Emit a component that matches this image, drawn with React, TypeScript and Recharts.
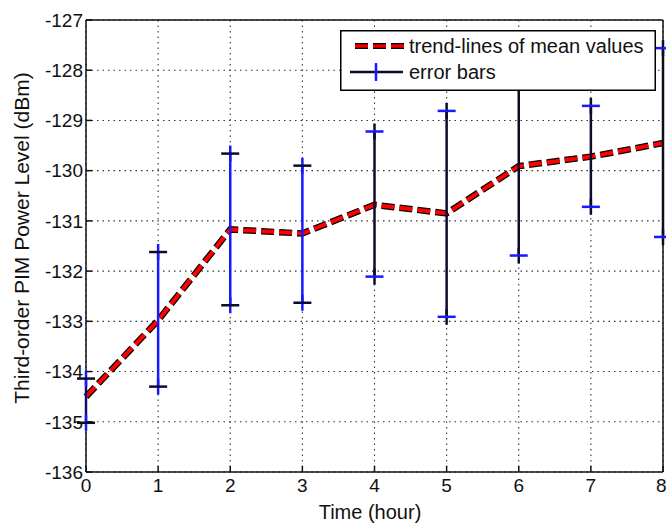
import React from 'react'
import { CartesianGrid, ComposedChart, ErrorBar, Legend, Line, Scatter, XAxis, YAxis } from 'recharts'

const FONT = '"Liberation Sans", Arial, sans-serif'

// hours after start
const hours = [0, 1, 2, 3, 4, 5, 6, 7, 8]
// mean PIM level (dBm) per hour
const meanValues = [-134.5, -132.98, -131.17, -131.25, -130.68, -130.85, -129.91, -129.72, -129.45]
// top / bottom of each error bar
const upperValues = [-134.14, -131.62, -129.66, -129.9, -129.22, -128.81, -127.9, -128.71, -127.56]
const lowerValues = [-135.02, -134.3, -132.68, -132.63, -132.11, -132.91, -131.69, -130.72, -131.32]
const yTicks = [-136, -135, -134, -133, -132, -131, -130, -129, -128, -127]

const rows = hours.map((h, i) => ({
    hour: h,
    mean: meanValues[i],
    upper: upperValues[i],
    lower: lowerValues[i],
    err: [meanValues[i] - lowerValues[i], upperValues[i] - meanValues[i]],
}))
// the first four bars were drawn blue with dark caps, the rest dark with blue caps
const firstGroup = rows.filter(r => r.hour <= 3)
const secondGroup = rows.filter(r => r.hour > 3)

const BLUE = '#1818ff'
const NAVY = '#0c0c2c'

const capShape = (capColor: string, barColor: string) => (props: any) => {
    const { cx, cy } = props
    return (
        <g>
            <line x1={cx} x2={cx} y1={cy - 8} y2={cy + 8} stroke={barColor} strokeWidth={2.5} />
            <line x1={cx - 9} x2={cx + 9} y1={cy} y2={cy} stroke={capColor} strokeWidth={2.5} />
        </g>
    )
}

const hidden = () => <g />

const YLabel = () => (
    <text x={21} y={238} transform="rotate(-90 21 238)" textAnchor="middle" dominantBaseline="central"
        fontFamily={FONT} fontSize={21} fill="#111">
        Third-order PIM Power Level (dBm)
    </text>
)

const XLabel = () => (
    <text x={370} y={519} textAnchor="middle" fontFamily={FONT} fontSize={20} fill="#111">
        Time (hour)
    </text>
)

const LegendBox = () => (
    <svg width={316} height={61} style={{ display: 'block', background: '#fff' }}>
        <rect x={0.75} y={0.75} width={314.5} height={59.5} fill="#fff" stroke="#000" strokeWidth={1.5} />
        <line x1={15} x2={64} y1={16} y2={16} stroke="#000" strokeWidth={6} strokeDasharray="13 5" />
        <line x1={15} x2={64} y1={16} y2={16} stroke="#e00" strokeWidth={3.5} strokeDasharray="13 5" />
        <text x={69} y={23} fontFamily={FONT} fontSize={20} fill="#111">trend-lines of mean values</text>
        <line x1={10} x2={63} y1={42} y2={42} stroke={NAVY} strokeWidth={2.5} />
        <line x1={36} x2={36} y1={33} y2={51} stroke={BLUE} strokeWidth={2.5} />
        <text x={69} y={49} fontFamily={FONT} fontSize={20} fill="#111">error bars</text>
    </svg>
)

const App: React.FC = () => {
    const tickStyle = { fontFamily: FONT, fontSize: 19, fill: '#111' }
    return (
        <div style={{ position: 'absolute', left: 0, top: 0, background: '#fff' }}>
            <ComposedChart width={666} height={525} data={rows} margin={{ top: 20, right: 3, bottom: 0, left: 0 }}>
                <CartesianGrid stroke="#333" strokeWidth={1.1} strokeDasharray="1.5 4" />
                <XAxis dataKey="hour" type="number" domain={[0, 8]} ticks={hours} height={53}
                    stroke="#111" strokeWidth={1.5} tickSize={-6} tickMargin={13} tick={tickStyle}
                    label={<XLabel />} />
                <XAxis xAxisId="top" orientation="top" mirror type="number" domain={[0, 8]} ticks={hours}
                    allowDataOverflow stroke="#111" strokeWidth={1.5} tickSize={6} tick={false} />
                <YAxis type="number" domain={[-136, -127]} ticks={yTicks} width={86} interval={0}
                    stroke="#111" strokeWidth={1.5} tickSize={-6} tickMargin={9} tick={tickStyle}
                    label={<YLabel />} />
                <YAxis yAxisId="right" orientation="right" mirror type="number" domain={[-136, -127]} ticks={yTicks}
                    allowDataOverflow stroke="#111" strokeWidth={1.5} tickSize={6} tick={false} />
                <Line dataKey="mean" stroke="#000" strokeWidth={6.5} strokeDasharray="13 5" dot={false}
                    isAnimationActive={false} legendType="none" />
                <Line dataKey="mean" stroke="#ff0000" strokeWidth={4} strokeDasharray="13 5" dot={false}
                    isAnimationActive={false} legendType="none" />
                <Scatter data={firstGroup} dataKey="mean" shape={hidden} isAnimationActive={false} legendType="none">
                    <ErrorBar dataKey="err" direction="y" width={0} stroke={BLUE} strokeWidth={2.5} isAnimationActive={false} />
                </Scatter>
                <Scatter data={secondGroup} dataKey="mean" shape={hidden} isAnimationActive={false} legendType="none">
                    <ErrorBar dataKey="err" direction="y" width={0} stroke={NAVY} strokeWidth={2.5} isAnimationActive={false} />
                </Scatter>
                <Scatter data={firstGroup} dataKey="upper" shape={capShape(NAVY, BLUE)} isAnimationActive={false} legendType="none" />
                <Scatter data={firstGroup} dataKey="lower" shape={capShape(NAVY, BLUE)} isAnimationActive={false} legendType="none" />
                <Scatter data={secondGroup} dataKey="upper" shape={capShape(BLUE, NAVY)} isAnimationActive={false} legendType="none" />
                <Scatter data={secondGroup} dataKey="lower" shape={capShape(BLUE, NAVY)} isAnimationActive={false} legendType="none" />
                <Legend layout="vertical" align="center" verticalAlign="middle" content={<LegendBox />}
                    wrapperStyle={{ left: 340, top: 30, width: 316, height: 61 }} />
            </ComposedChart>
        </div>
    )
}

export default App
